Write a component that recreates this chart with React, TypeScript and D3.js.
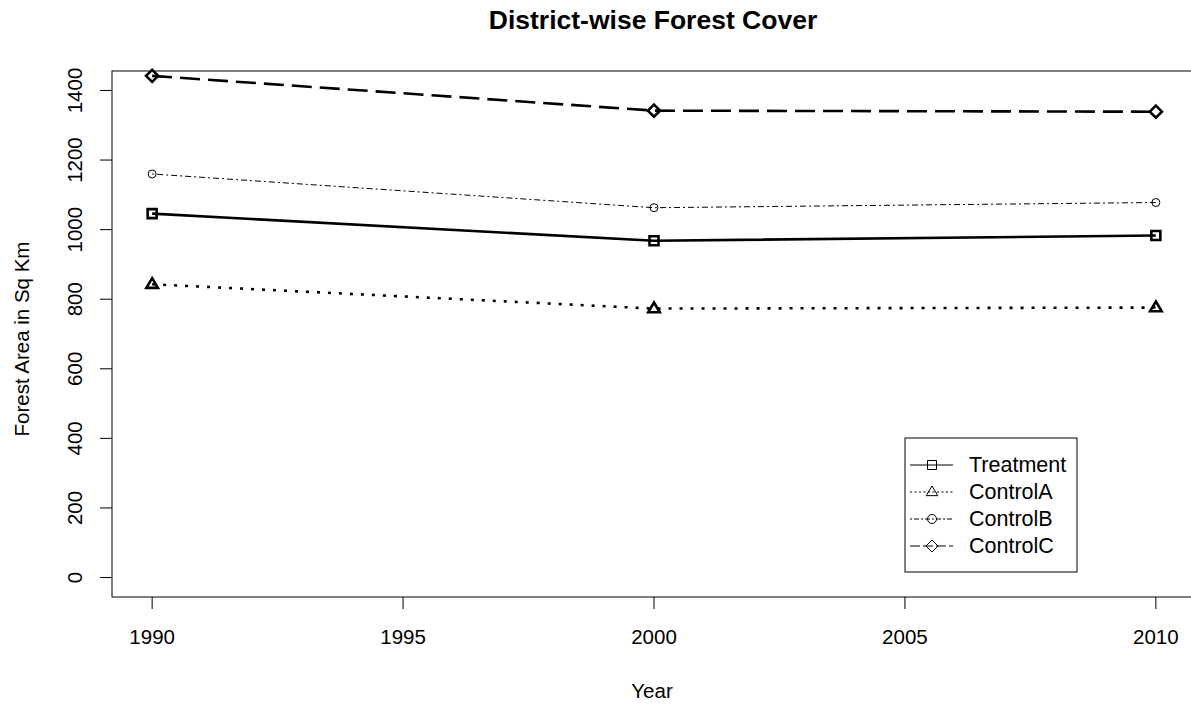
import React from "react";
import * as d3 from "d3";

const years = [1990, 2000, 2010];
const treatment = [1046, 968, 983];
const controlA = [843, 773, 776];
const controlB = [1160, 1063, 1078];
const controlC = [1442, 1342, 1339];
const xTicks = [1990, 1995, 2000, 2005, 2010];
const yTicks = [0, 200, 400, 600, 800, 1000, 1200, 1400];
const seriesNames = ["Treatment", "ControlA", "ControlB", "ControlC"];

const W = 1191, H = 708;
const L = 112, R = 1196, T = 71, B = 597;
const FONT = "'Liberation Sans', Arial, sans-serif";

type Shape = "square" | "triangle" | "circle" | "diamond";

function markerPath(shape: Shape, cx: number, cy: number, s: number): string {
  switch (shape) {
    case "square":
      return `M${cx - s},${cy - s}H${cx + s}V${cy + s}H${cx - s}Z`;
    case "triangle": {
      const h = s * 1.35;
      return `M${cx},${cy - h}L${cx + h * 0.95},${cy + h * 0.6}L${cx - h * 0.95},${cy + h * 0.6}Z`;
    }
    case "diamond": {
      const d = s * 1.35;
      return `M${cx},${cy - d}L${cx + d},${cy}L${cx},${cy + d}L${cx - d},${cy}Z`;
    }
    default:
      return `M${cx - s},${cy}a${s},${s} 0 1,0 ${2 * s},0a${s},${s} 0 1,0 ${-2 * s},0Z`;
  }
}

export default function App() {
  const x = d3.scaleLinear().domain([1989.2, 2010.8]).range([L, R]);
  const y = d3.scaleLinear().domain([-56, 1456]).range([B, T]);

  const series = [
    { name: seriesNames[0], values: treatment, shape: "square" as Shape, lw: 2.6, dash: "", legDash: "", ms: 4.5 },
    { name: seriesNames[1], values: controlA, shape: "triangle" as Shape, lw: 2.6, dash: "3,8", legDash: "2,2.5", ms: 4.5 },
    { name: seriesNames[2], values: controlB, shape: "circle" as Shape, lw: 1, dash: "2,3,6,3", legDash: "2,2,5,2", ms: 4 },
    { name: seriesNames[3], values: controlC, shape: "diamond" as Shape, lw: 2.6, dash: "20,8", legDash: "10,3", ms: 4.5 },
  ];

  const line = d3
    .line<number>()
    .x((_, i) => x(years[i]))
    .y((v) => y(v))
    .curve(d3.curveLinear);

  const legX = 905, legY = 438, legW = 172, legH = 134;
  const legRows = [465, 492, 519, 546];

  return (
    <svg width={W} height={H} style={{ position: "absolute", left: 0, top: 0, background: "#fff" }} fontFamily={FONT}>
      <rect x={0} y={0} width={W} height={H} fill="#fff" />
      <text x={(L + R) / 2 - 1} y={29} textAnchor="middle" fontWeight="bold" fontSize={26.5} fill="#000">
        District-wise Forest Cover
      </text>
      {/* plot box */}
      <rect x={L} y={T} width={R - L} height={B - T} fill="none" stroke="#000" strokeWidth={1} />
      {/* x axis */}
      {xTicks.map((t) => (
        <g key={t}>
          <line x1={x(t)} x2={x(t)} y1={B} y2={B + 12} stroke="#000" strokeWidth={1} />
          <text x={x(t)} y={644} textAnchor="middle" fontSize={20.5} fill="#000">{t}</text>
        </g>
      ))}
      <text x={(L + R) / 2 - 2} y={698} textAnchor="middle" fontSize={20.5} fill="#000">Year</text>
      {/* y axis */}
      {yTicks.map((t) => (
        <g key={t}>
          <line x1={L - 12} x2={L} y1={y(t)} y2={y(t)} stroke="#000" strokeWidth={1} />
          <text
            transform={`translate(${82},${y(t)}) rotate(-90)`}
            textAnchor="middle"
            fontSize={20.5}
            fill="#000"
          >
            {t}
          </text>
        </g>
      ))}
      <text transform={`translate(29,${(T + B) / 2 + 5}) rotate(-90)`} textAnchor="middle" fontSize={20.5} fill="#000">
        Forest Area in Sq Km
      </text>
      {/* series */}
      {series.map((s) => (
        <g key={s.name}>
          <path d={line(s.values) || ""} fill="none" stroke="#000" strokeWidth={s.lw} strokeDasharray={s.dash || undefined} />
          {s.values.map((v, i) => (
            <path
              key={i}
              d={markerPath(s.shape, x(years[i]), y(v), s.ms)}
              fill="none"
              stroke="#000"
              strokeWidth={s.lw}
            />
          ))}
        </g>
      ))}
      {/* legend */}
      <rect x={legX} y={legY} width={legW} height={legH} fill="#fff" stroke="#000" strokeWidth={1} />
      {series.map((s, i) => (
        <g key={s.name}>
          <line x1={910} x2={953} y1={legRows[i]} y2={legRows[i]} stroke="#000" strokeWidth={1} strokeDasharray={s.legDash || undefined} />
          <path d={markerPath(s.shape, 932, legRows[i], 4.5)} fill="none" stroke="#000" strokeWidth={1} />
          <text x={969} y={legRows[i] + 7} fontSize={21.5} fill="#000">{s.name}</text>
        </g>
      ))}
    </svg>
  );
}
